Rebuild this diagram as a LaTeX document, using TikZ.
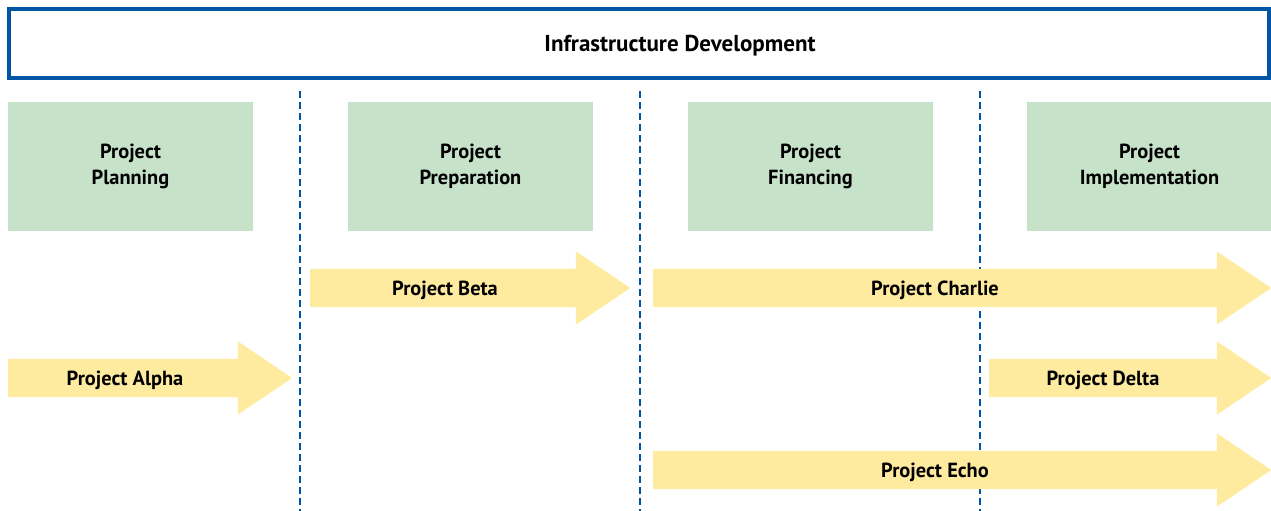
\documentclass[tikz,border=0pt]{standalone}
\usepackage{fontspec}
\setmainfont{PT Sans}
\usepackage{tikz}
\usetikzlibrary{shapes.arrows}
\definecolor{hdrblue}{RGB}{0,85,164}
\definecolor{phasegreen}{RGB}{198,227,202}
\definecolor{projyellow}{RGB}{255,235,160}
\def\phasewd{245pt}

\begin{document}
\begin{tikzpicture}[x=1pt,y=-1pt,font=\bfseries\fontsize{20.4}{26}\selectfont]
    \tikzstyle{header}=[rectangle,draw=hdrblue,line width=4pt,fill=white,minimum width=1260pt,minimum height=69pt,inner sep=0pt]
    \tikzstyle{phase}=[rectangle,fill=phasegreen,minimum width=\phasewd,minimum height=129pt,inner sep=0pt,align=center]
    \tikzstyle{project}=[single arrow,fill=projyellow,single arrow head extend=17.5pt,single arrow tip angle=68,single arrow head indent=0pt,inner xsep=0pt,inner ysep=19pt,shape border rotate=0,anchor=tail]
    \tikzstyle{annot}=[inner sep=0pt,yshift=-2pt]
    \tikzstyle{divider}=[hdrblue,line width=2.5pt,dash pattern=on 7pt off 4pt]

    \useasboundingbox (0,0) rectangle (1271,511);

    % Header
    \node[header] (hdr) at (639,43.5) {};
    \node[annot,font=\bfseries\fontsize{23}{28}\selectfont] (hdr-text) at (680,44) {Infrastructure Development};

    % Phase boxes
    \foreach \name / \x / \txt in {1/130.5/Planning,2/470.5/Preparation,3/810.5/Financing,4/1149.5/Implementation}
        \node[phase] (Ph-\name) at (\x,166.5) {Project\\\txt};

    % Dividers between the phases
    \foreach \name / \x in {1/300,2/640,3/980} {
        \coordinate (D-\name-top) at (\x,91);
        \coordinate (D-\name-bot) at (\x,511);
        \draw[divider] (D-\name-top) -- (D-\name-bot);
    }

    % Project arrows: name / tail x / y / length / label x
    \foreach \name / \x / \y / \len / \lx in {Alpha/8/378/284/125,Beta/310/288/320/445,Charlie/653/288/618/935,Delta/989/378/282/1103,Echo/653/470/618/935} {
        \node[project,minimum height=\len pt] (P-\name) at (\x,\y) {};
        \node[annot] (L-\name) at (\lx,\y) {Project \name};
    }

\end{tikzpicture}
\end{document}
